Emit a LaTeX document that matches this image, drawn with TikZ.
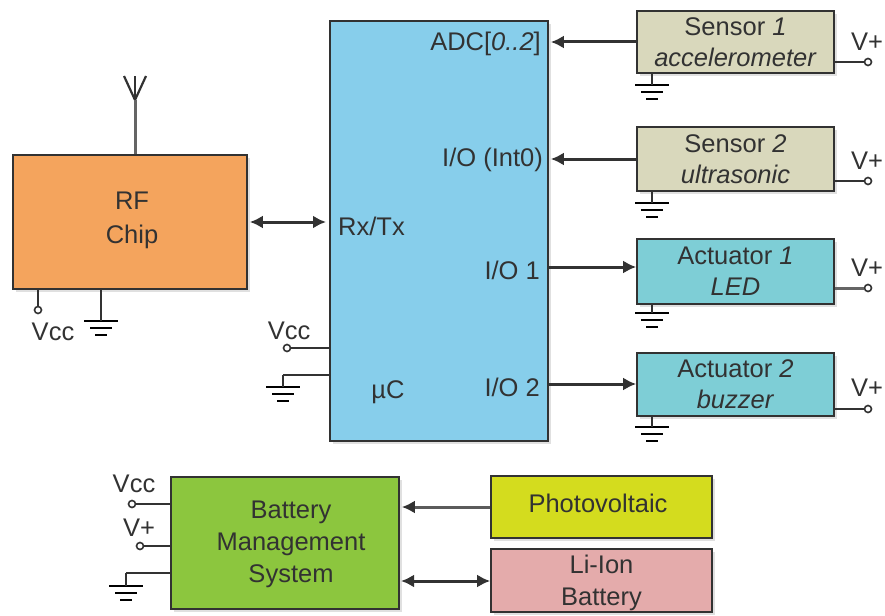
\documentclass[tikz,border=0pt]{standalone}
\usepackage{fontspec}
\setmainfont{Liberation Sans}
\usetikzlibrary{positioning,arrows.meta,shadows}
\definecolor{rfcol}{RGB}{244,164,93}
\definecolor{uccol}{RGB}{135,206,235}
\definecolor{sensorcol}{RGB}{217,216,188}
\definecolor{actcol}{RGB}{126,206,214}
\definecolor{bmscol}{RGB}{140,198,62}
\definecolor{pvcol}{RGB}{212,220,30}
\definecolor{liioncol}{RGB}{228,171,171}
\definecolor{inkcol}{RGB}{50,50,50}
\tikzset{
	gnd/.pic={
		\draw[line width=1.6pt] (-17,0) -- (17,0);
		\draw[line width=1.6pt] (-11,7) -- (11,7);
		\draw[line width=1.6pt] (-6,14) -- (6,14);
	},
	block/.style={draw=inkcol,line width=1.6pt,align=center,inner sep=0pt,
		font=\fontsize{25.5}{31}\selectfont,text=inkcol,
		drop shadow={shadow xshift=3pt,shadow yshift=-3pt,fill=black!12,opacity=1}},
	lbl/.style={inner sep=0pt,align=center,text=inkcol,font=\fontsize{25.5}{32}\selectfont},
	term/.style={circle,draw=inkcol,fill=white,line width=1.6pt,inner sep=0pt,minimum size=7pt},
	wire/.style={draw=inkcol,line width=1.6pt},
	bigwire/.style={draw=inkcol,line width=3pt},
	sig/.style={bigwire,-{Latex[length=13pt,width=13pt,color=inkcol]}},
	bus/.style={bigwire,{Latex[length=13pt,width=13pt]}-{Latex[length=13pt,width=13pt]}}
}
\begin{document}
\begin{tikzpicture}[x=1pt, y=-1pt]
		\useasboundingbox (0,0) rectangle (885,615);
		\begin{scope}[every node/.append style={block}]
			\node[fill=rfcol,minimum width=234pt,minimum height=134pt] (rf) at (130,222) {};
			\node[fill=uccol,minimum width=218pt,minimum height=420pt] (uc) at (439,231) {};
			\node[fill=sensorcol,minimum width=197pt,minimum height=62pt] (s1) at (735.5,42) {Sensor \textit{1}\\\textit{accelerometer}};
			\node[fill=sensorcol,minimum width=197pt,minimum height=64pt] (s2) at (735.5,159) {Sensor \textit{2}\\\textit{ultrasonic}};
			\node[fill=actcol,minimum width=197pt,minimum height=65pt] (a1) at (735.5,271.5) {Actuator \textit{1}\\\textit{LED}};
			\node[fill=actcol,minimum width=197pt,minimum height=63pt] (a2) at (735.5,384.5) {Actuator \textit{2}\\\textit{buzzer}};
			\node[fill=bmscol,minimum width=228pt,minimum height=132pt] (bms) at (285,543) {};
			\node[fill=pvcol,minimum width=221pt,minimum height=62pt] (pv) at (601.5,507) {};
			\node[fill=liioncol,minimum width=221pt,minimum height=63pt] (li) at (601.5,580.5) {};
		\end{scope}
		\begin{scope}[every node/.append style={lbl}]
			\node (rft) at (132,220) {RF\\[2pt]Chip};
			\node (bmst) at (291,544) {Battery\\Management\\System};
			\node (pvt) at (598,503) {Photovoltaic};
			\node (lit) at (601.5,583) {Li-Ion\\Battery};
			\node[anchor=east] (adc) at (541,44) {ADC[\textit{0..2}]};
			\node[anchor=east] (int0) at (543,160) {I/O (Int0)};
			\node[anchor=east] (io1) at (540,270) {I/O 1};
			\node[anchor=east] (io2) at (540,387) {I/O 2};
			\node[anchor=west] (rxtx) at (338,226) {Rx/Tx};
			\node (mu) at (388,392) {µC};
			\node (vccrf) at (53,332) {Vcc};
			\node (vccuc) at (289,331) {Vcc};
			\node (vccb) at (134,484) {Vcc};
			\node (vpb) at (139,528) {V+};
			\node (vp1) at (867,42) {V+};
			\node (vp2) at (867,161) {V+};
			\node (vp3) at (867,268) {V+};
			\node (vp4) at (867,388) {V+};
		\end{scope}
		% supply terminals
		\node[term] (trf) at (38,310) {};
		\node[term] (tuc) at (287,348) {};
		\node[term] (tb1) at (132,504) {};
		\node[term] (tb2) at (140,546) {};
		\node[term] (t1) at (868,62) {};
		\node[term] (t2) at (868,181) {};
		\node[term] (t3) at (868,288) {};
		\node[term] (t4) at (868,409) {};
		% ground points
		\coordinate (grf) at (101,321);
		\coordinate (guc) at (283,387);
		\coordinate (gb) at (126,586);
		\coordinate (g1) at (652,85);
		\coordinate (g2) at (652,203);
		\coordinate (g3) at (652,313);
		\coordinate (g4) at (652,427);
		\coordinate (guct) at (283,375);
		\coordinate (gbt) at (126,573);
		% antenna
		\coordinate (antb) at (135,100);
		\coordinate (antt) at (135,76);
		\coordinate (antl) at (124,76);
		\coordinate (antr) at (146,76);
		\foreach \g in {grf,guc,gb,g1,g2,g3,g4}
			\pic at (\g) {gnd};
		\begin{scope}[every edge/.style={wire}]
			\path (rf.south -| trf) edge (trf);
			\path (rf.south -| grf) edge (grf);
			\path (tuc) edge (tuc -| uc.west);
			\path (guct -| uc.west) edge (guct);
			\path (guct) edge (guc);
			\path (tb1) edge (tb1 -| bms.west);
			\path (tb2) edge (tb2 -| bms.west);
			\path (gbt -| bms.west) edge (gbt);
			\path (gbt) edge (gb);
			\path (s1.south -| g1) edge (g1);
			\path (s2.south -| g2) edge (g2);
			\path (a1.south -| g3) edge (g3);
			\path (a2.south -| g4) edge (g4);
			\path (t1 -| s1.east) edge (t1);
			\path (t2 -| s2.east) edge (t2);
			\path (t3 -| a1.east) edge (t3);
			\path (t4 -| a2.east) edge (t4);
		\end{scope}
		\draw[wire,line width=2.2pt] (antl) -- (antb) -- (antr);
		\draw[wire,line width=2.2pt] (antb) -- (antt);
		\draw[bigwire,draw=inkcol!75] (rf.north -| antb) -- (antb);
		\draw[bigwire,draw=inkcol!75] (t3 -| a1.east) -- ([xshift=-6pt]t3);
		\coordinate (io1p) at (548,267);
		\coordinate (io2p) at (548,384);
		\coordinate (rxp) at (330,222);
		\coordinate (bmsp) at (399,581);
		\draw[sig] (s1.west) -- ([xshift=2pt]s1.west -| uc.east);
		\draw[sig] (s2.west) -- ([xshift=2pt]s2.west -| uc.east);
		\draw[sig] (io1p) -- (io1p -| a1.west);
		\draw[sig] (io2p) -- (io2p -| a2.west);
		\draw[sig,draw=inkcol!80] (pv.west) -- ([xshift=2pt]pv.west -| bms.east);
		\draw[bus] ([xshift=2pt]rf.east) -- ([xshift=-4pt]rxp);
		\draw[bus] ([xshift=2pt]bmsp) -- (bmsp -| li.west);
	\end{tikzpicture}
\end{document}
